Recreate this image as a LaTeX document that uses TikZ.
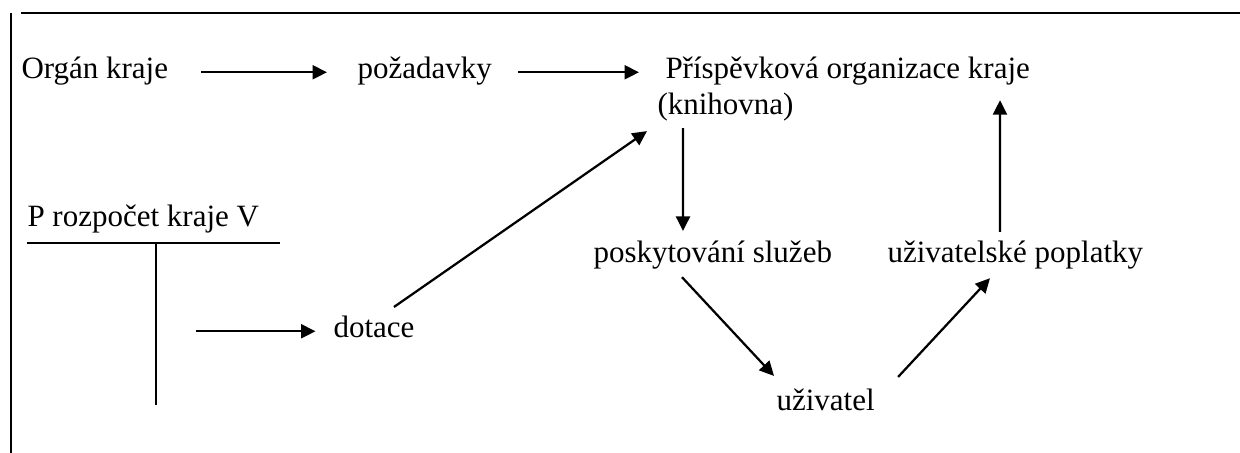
\documentclass[tikz,border=0pt]{standalone}
\usepackage{fontspec}
\setmainfont{Liberation Serif}
\usepackage{tikz}
\usetikzlibrary{arrows.meta}

\begin{document}
\begin{tikzpicture}[
x=0.4pt, y=-0.4pt,
Labels/.style={anchor=base west, inner sep=0pt, font=\fontsize{12.4}{14}\selectfont},
Arrows/.style={-{Triangle[length=5.8pt, width=5.6pt]}, line width=0.9pt},
Frame/.style={line width=1pt},
TLines/.style={line width=0.7pt}
]
\useasboundingbox (0,0) rectangle (1240,453);

% frame of the page
\draw[Frame] (21,13) -- (1240,13);
\draw[Frame] (11,13) -- (11,453);

\node[Labels] (organ) at (21,78) {Orgán kraje};
\node[Labels] (pozad) at (357,78) {požadavky};
\node[Labels] (prisp) at (665,78) {Příspěvková organizace kraje};
\node[Labels] (knih) at (657,114) {(knihovna)};
\node[Labels] (rozp) at (27,226) {P rozpočet kraje V};
\node[Labels] (dotace) at (333,337) {dotace};
\node[Labels] (posk) at (593,262) {poskytování služeb};
\node[Labels] (popl) at (887,262) {uživatelské poplatky};
\node[Labels] (uziv) at (776,410) {uživatel};

% T account
\coordinate (TL) at (27,243);
\coordinate (TR) at (280,243);
\coordinate (TM) at (156,243);
\coordinate (TB) at (156,405);
\coordinate (TOut) at (196,243);
\draw[TLines] (TL) -- (TR);
\draw[TLines] (TM) -- (TB);

\draw[Arrows, shorten <=13pt, shorten >=12pt] (organ.mid east) -- (pozad.mid west);
\draw[Arrows, shorten <=10.4pt, shorten >=10.4pt] (pozad.mid east) -- (prisp.mid west);
\draw[Arrows, shorten >=7pt] (TOut |- dotace.mid west) -- (dotace.mid west);

\draw[Arrows] ([xshift=8pt,yshift=3.2pt]dotace.north) -- ([xshift=-4pt,yshift=-4pt]knih.south west);
\draw[Arrows] ([xshift=10.4pt,yshift=-2.8pt]knih.south west) -- ([xshift=36pt,yshift=3.6pt]posk.north west);
\draw[Arrows] ([xshift=35.6pt,yshift=-3.2pt]posk.south west) -- ([xshift=-0.8pt,yshift=4.8pt]uziv.north west);
\draw[Arrows] ([xshift=9.2pt,yshift=4.4pt]uziv.north east) -- ([xshift=41.2pt,yshift=-3.6pt]popl.south west);
\draw[Arrows] ([xshift=45.2pt,yshift=3.2pt]popl.north west) -- ([xshift=134pt,yshift=-6pt]prisp.south west);

\end{tikzpicture}
\end{document}
